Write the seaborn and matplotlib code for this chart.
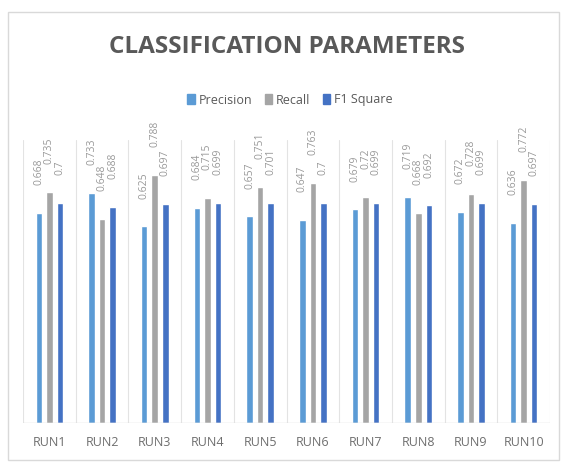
import pandas as pd
import numpy as np
import matplotlib
matplotlib.use("Agg")
import matplotlib.pyplot as plt
import seaborn as sns
from matplotlib.patches import Rectangle

runs = ["RUN1", "RUN2", "RUN3", "RUN4", "RUN5", "RUN6", "RUN7", "RUN8", "RUN9", "RUN10"]
precision = [0.668, 0.733, 0.625, 0.684, 0.657, 0.647, 0.679, 0.719, 0.672, 0.636]
recall = [0.735, 0.648, 0.788, 0.715, 0.751, 0.763, 0.72, 0.668, 0.728, 0.772]
f1_square = [0.7, 0.688, 0.697, 0.699, 0.701, 0.7, 0.699, 0.692, 0.699, 0.697]
metrics = ["Precision", "Recall", "F1 Square"]

df = pd.DataFrame({"Run": runs, "Precision": precision, "Recall": recall, "F1 Square": f1_square})
long = df.melt(id_vars="Run", var_name="Metric", value_name="Value")

sns.set_theme(style="white")
plt.rcParams["font.family"] = ["Open Sans", "DejaVu Sans"]

colors = ["#5B9BD5", "#A5A5A5", "#4472C4"]

fig = plt.figure(figsize=(5.64, 4.66), dpi=100)
ax = fig.add_axes([23 / 564, 43 / 466, 527 / 564, 283 / 466])

sns.barplot(data=long, x="Run", y="Value", hue="Metric", hue_order=metrics,
            palette=colors, width=0.6, gap=0.38, ax=ax, legend=False, saturation=1)

# rotated value labels above each bar
for cont in ax.containers:
    labels = [f"{b.get_height():g}" for b in cont]
    ax.bar_label(cont, labels=labels, rotation=90, padding=20, fontsize=7.5,
                 color="#999999", clip_on=False)

ax.set_ylim(0, 0.9)
ax.set_xlim(-0.5, len(runs) - 0.5)
for x in np.arange(-0.5, len(runs), 1.0):
    ax.axvline(x, color="#E3E3E3", lw=0.8, zorder=0)
ax.axhline(0, color="#D9D9D9", lw=1.0)

for s in ax.spines.values():
    s.set_visible(False)
ax.set_yticks([])
ax.set_xlabel("")
ax.set_ylabel("")
ax.tick_params(axis="x", length=0, pad=9, labelsize=9, labelcolor="#6E6E6E")

# legend
handles = [plt.Rectangle((0, 0), 1, 1, color=c) for c in colors]
fig.legend(handles, metrics, loc="center", bbox_to_anchor=(290 / 564, 1 - 100 / 466),
           ncol=3, frameon=False, fontsize=9, handlelength=0.6, handleheight=0.9,
           handletextpad=0.3, columnspacing=1.0, labelcolor="#595959")

fig.text(287 / 564, 1 - 47 / 466, "CLASSIFICATION PARAMETERS", ha="center", va="center",
         fontsize=17.5, fontweight="bold", color="#595959")

# chart frame
fig.patches.append(Rectangle((8 / 564, 1 - 460 / 466), 551 / 564, 448 / 466,
                             transform=fig.transFigure, fill=False,
                             edgecolor="#D9D9D9", lw=1.0))

fig.savefig("out.png", dpi=100)
